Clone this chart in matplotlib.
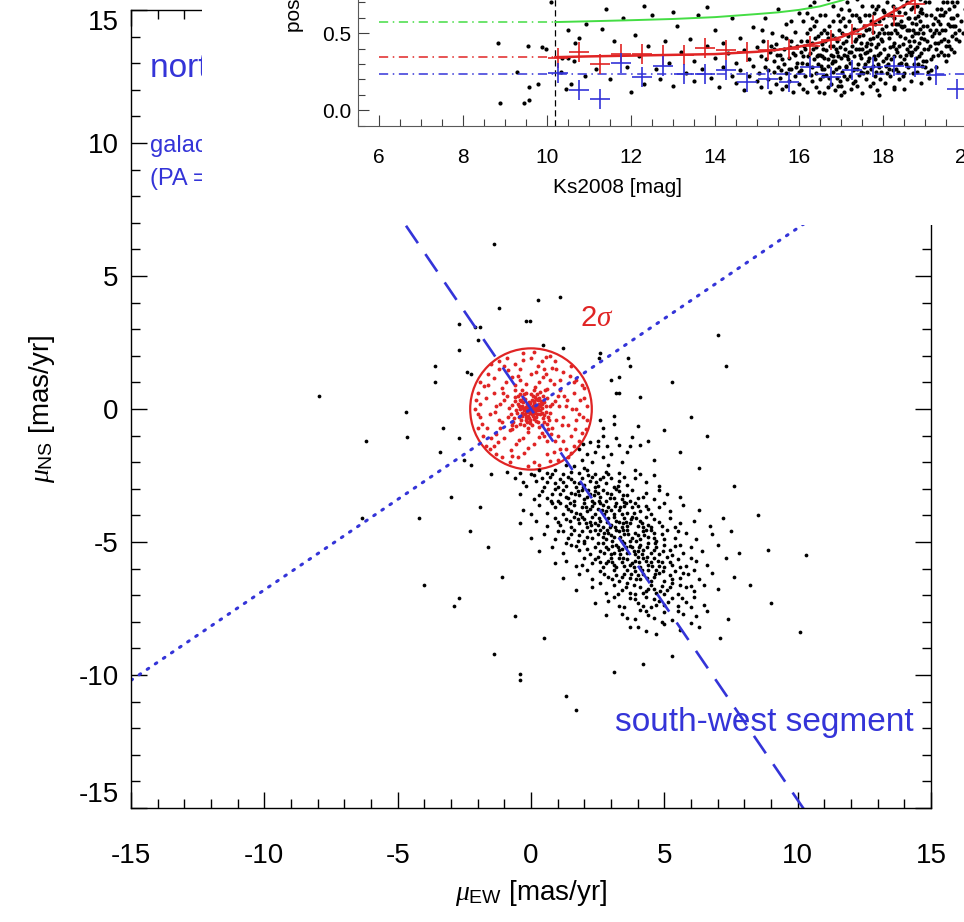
import numpy as np
import matplotlib
matplotlib.use('Agg')
import matplotlib.pyplot as plt
from matplotlib.patches import Circle, Rectangle
from matplotlib.ticker import MultipleLocator, FormatStrFormatter

plt.rcParams['font.family'] = ['Liberation Sans', 'DejaVu Sans']
plt.rcParams['mathtext.fontset'] = 'custom'
plt.rcParams['mathtext.rm'] = 'Liberation Sans'
plt.rcParams['mathtext.it'] = 'Liberation Serif:italic'
plt.rcParams['axes.unicode_minus'] = False

# ---- main panel data: proper motions [mas/yr] ----
field_stars = """
-7.95 0.5  -6.2 -1.2  -4.7 -0.1  -4.65 -1.05  -6.35 -4.1  -4.2 -4.1  -4.0 -6.6
-2.9 -7.4  -2.7 -7.1  -1.4 -9.2  -0.4 -9.95  -0.4 -10.2  1.3 -10.8  1.7 -11.3
-1.4 6.2  0.26 4.1  1.1 4.2  -1.2 3.8  -2.7 3.2  -2.1 3.1  -1.9 3.1  -0.2 3.3
-0.05 3.3  0.45 2.4  1.2 2.3  -2.0 2.6  -2.7 2.2  -3.6 1.6  -3.6 1.0  -2.4 1.4
-2.25 1.3  -3.3 -0.7  -2.7 -1.1  -3.4 -1.6  -2.5 -1.9  -2.25 -2.1  2.5 -1.2
3.0 1.1  3.3 1.2  3.2 0.6  3.3 0.6  3.7 1.6  4.1 0.45  2.55 1.9  3.65 1.9  2.6 2.1
3.1 -0.25  2.6 -0.4  2.7 -0.7  3.1 -0.55  3.8 -1.05  4.0 -0.65  2.7 -1.0  2.5 -1.4
2.85 -1.4  3.3 -1.35  3.7 -1.4  4.1 -1.35  4.4 -1.2  7.0 2.8  7.3 1.6  10.1 -8.4
10.3 -5.5  7.6 -2.9  5.0 -0.8  5.6 -1.6  6.3 -2.2  6.0 -0.3  5.3 1.0  6.6 -1.0
8.5 -4.0  8.9 -5.3  8.2 -6.6  9.0 -7.3  7.4 -7.9  7.1 -8.6  4.2 -9.6  3.1 -9.9
5.3 -9.3  0.5 -8.6  -0.6 -7.8  -1.1 -6.3  -1.6 -5.2  -2.3 -4.6  -1.9 -3.7  -3.0 -3.3
1.8 -1.5  2.1 -1.7  2.4 -1.6  1.9 -1.9  2.3 -2.0  2.7 -1.8  3.0 -1.7  1.3 -2.1
1.6 -2.15  2.0 -2.2  3.4 -2.0  3.6 -1.6  2.9 -2.1  4.6 -1.9  1.95 -1.3  2.2 -1.25
3.2 -1.1
-0.9 -2.35  -0.4 -2.4  0.0 -2.45  0.3 -2.3  0.6 -2.4  0.9 -2.3  1.2 -2.45  1.5 -2.35
1.8 -2.4  2.1 -2.3  2.4 -2.45  2.8 -2.35  3.3 -2.4  3.9 -2.3  -1.5 -2.45
-0.6 -2.6  -0.2 -2.9  0.2 -2.7  0.5 -2.95  0.7 -2.55  0.9 -2.8  1.1 -2.65  1.3 -2.9
1.4 -2.55  1.6 -2.75  1.7 -2.95  1.9 -2.6  2.0 -2.85  2.2 -2.7  2.3 -2.55  2.5 -2.9
2.6 -2.65  2.8 -2.8  3.0 -2.6  3.1 -2.95  3.3 -2.7  3.6 -2.85  3.9 -2.6  4.3 -2.75
4.8 -2.9  1.0 -2.95  2.4 -2.95  0.4 -2.6  1.8 -2.8  2.7 -2.55
-0.4 -3.2  0.1 -3.4  0.4 -3.1  0.6 -3.35  0.8 -3.2  1.0 -3.45  1.2 -3.05  1.3 -3.3
1.5 -3.15  1.6 -3.45  1.8 -3.25  1.9 -3.05  2.0 -3.4  2.2 -3.2  2.3 -3.45  2.4 -3.1
2.6 -3.3  2.7 -3.05  2.8 -3.45  3.0 -3.2  3.1 -3.35  3.3 -3.1  3.4 -3.4  3.6 -3.25
3.8 -3.05  4.0 -3.35  4.3 -3.15  4.6 -3.4  5.1 -3.2  5.6 -3.3  1.1 -3.2  2.5 -3.15
2.1 -3.3  0.9 -3.0  3.5 -3.5
-0.3 -3.8  0.3 -3.6  0.6 -3.9  0.9 -3.7  1.1 -3.55  1.2 -3.95  1.4 -3.75  1.6 -3.6
1.7 -3.9  1.9 -3.7  2.0 -3.55  2.1 -3.85  2.3 -3.65  2.4 -3.95  2.5 -3.75  2.7 -3.6
2.8 -3.85  2.9 -3.7  3.1 -3.95  3.2 -3.55  3.3 -3.8  3.5 -3.65  3.6 -3.9  3.8 -3.7
3.9 -3.55  4.1 -3.85  4.3 -3.65  4.5 -3.95  4.8 -3.7  5.2 -3.85  5.7 -3.6  6.3 -3.8
2.2 -3.75  2.6 -3.55  3.0 -3.8  1.5 -3.85  3.4 -3.95  0.0 -3.95
0.2 -4.2  0.6 -4.4  0.9 -4.1  1.1 -4.35  1.3 -4.15  1.5 -4.45  1.6 -4.05  1.8 -4.3
2.0 -4.15  2.1 -4.45  2.3 -4.05  2.4 -4.3  2.6 -4.2  2.7 -4.45  2.9 -4.1  3.0 -4.35
3.1 -4.05  3.3 -4.25  3.4 -4.45  3.5 -4.1  3.7 -4.3  3.8 -4.05  4.0 -4.4  4.1 -4.2
4.3 -4.05  4.4 -4.35  4.6 -4.15  4.9 -4.4  5.2 -4.1  5.6 -4.3  6.1 -4.2  6.7 -4.4
2.5 -4.35  3.2 -4.2  2.2 -4.25  3.6 -4.4  1.9 -4.05  4.2 -4.45  -0.4 -4.3  7.2 -4.1
0.5 -4.7  0.9 -4.9  1.2 -4.6  1.4 -4.85  1.6 -4.55  1.8 -4.75  2.0 -4.95  2.2 -4.6
2.3 -4.85  2.5 -4.7  2.6 -4.55  2.8 -4.9  2.9 -4.65  3.1 -4.8  3.2 -4.55  3.4 -4.95
3.5 -4.7  3.6 -4.55  3.8 -4.85  3.9 -4.65  4.1 -4.9  4.2 -4.6  4.4 -4.8  4.5 -4.55
4.7 -4.95  4.9 -4.7  5.1 -4.55  5.4 -4.85  5.8 -4.65  6.2 -4.9  6.8 -4.7  3.0 -4.75
3.3 -4.6  2.7 -4.8  4.0 -4.75  1.9 -4.6  4.6 -4.65  0.0 -4.85  7.5 -4.6  3.7 -4.95
0.8 -5.2  1.2 -5.4  1.5 -5.1  1.8 -5.3  2.0 -5.05  2.2 -5.45  2.4 -5.2  2.6 -5.35
2.7 -5.05  2.9 -5.25  3.0 -5.45  3.2 -5.1  3.3 -5.3  3.5 -5.05  3.6 -5.4  3.8 -5.2
3.9 -5.45  4.1 -5.1  4.2 -5.3  4.4 -5.05  4.5 -5.4  4.7 -5.2  4.8 -5.45  5.0 -5.1
5.2 -5.3  5.4 -5.15  5.7 -5.4  6.0 -5.2  6.4 -5.35  7.0 -5.1  3.4 -5.25  3.7 -5.15
4.0 -5.35  2.8 -5.2  4.6 -5.3  3.1 -5.4  0.3 -5.35  7.8 -5.4
1.3 -5.7  1.7 -5.9  2.0 -5.6  2.3 -5.8  2.5 -5.55  2.7 -5.95  2.9 -5.7  3.1 -5.85
3.3 -5.6  3.5 -5.9  3.6 -5.65  3.8 -5.8  4.0 -5.55  4.1 -5.95  4.3 -5.7  4.4 -5.85
4.6 -5.6  4.8 -5.9  4.9 -5.75  5.1 -5.55  5.3 -5.85  5.5 -5.65  5.8 -5.9  6.2 -5.7
6.6 -5.85  3.4 -5.75  3.9 -5.7  4.5 -5.75  3.0 -5.6  4.2 -5.6  2.6 -5.75  0.9 -5.8
7.3 -5.6  5.0 -5.95
1.8 -6.2  2.3 -6.4  2.6 -6.1  2.9 -6.3  3.1 -6.05  3.3 -6.45  3.5 -6.2  3.7 -6.35
3.9 -6.1  4.1 -6.4  4.2 -6.2  4.4 -6.05  4.6 -6.3  4.8 -6.15  5.0 -6.45  5.2 -6.25
5.4 -6.1  5.6 -6.35  5.9 -6.2  6.3 -6.4  6.8 -6.15  4.0 -6.25  4.5 -6.45  3.6 -6.05
4.7 -6.05  3.2 -6.25  1.2 -6.35  7.6 -6.3
2.3 -6.7  2.8 -6.9  3.1 -6.6  3.4 -6.8  3.6 -6.55  3.9 -6.95  4.1 -6.7  4.3 -6.85
4.5 -6.6  4.7 -6.9  4.9 -6.65  5.1 -6.8  5.3 -6.55  5.5 -6.95  5.8 -6.7  6.1 -6.85
6.5 -6.6  4.4 -6.75  3.7 -6.9  5.0 -6.95  1.7 -6.8  7.0 -6.75
2.9 -7.2  3.3 -7.4  3.7 -7.1  4.0 -7.3  4.3 -7.05  4.5 -7.45  4.8 -7.2  5.0 -7.35
5.3 -7.1  5.5 -7.4  5.8 -7.25  6.1 -7.05  6.5 -7.35  4.6 -7.15  3.5 -7.45  2.4 -7.3
3.4 -7.7  3.9 -7.9  4.3 -7.6  4.6 -7.85  5.0 -7.65  5.3 -7.95  5.7 -7.7  6.2 -7.8
4.1 -7.55  2.8 -7.75  6.6 -7.6
3.7 -8.2  4.3 -8.35  5.0 -8.1  5.6 -8.3  4.7 -8.45  6.3 -8.2
0.1 -2.5  0.8 -2.45  1.5 -2.65  2.15 -2.5  2.9 -2.45  3.5 -2.55  4.1 -2.45  1.2 -2.75
2.45 -2.75  3.25 -2.9  0.6 -2.75  1.95 -2.95  4.6 -2.5  -0.3 -2.75
0.3 -3.25  0.75 -3.45  1.4 -3.35  1.75 -3.1  2.15 -3.05  2.55 -3.45  2.95 -3.35  3.2 -3.0
3.7 -3.45  4.2 -3.3  4.8 -3.05  1.65 -3.2  2.35 -3.25  2.85 -3.15  3.45 -3.25
0.8 -3.55  1.3 -3.65  1.85 -3.95  2.35 -3.55  2.75 -3.95  3.15 -3.65  3.55 -3.55  4.0 -3.65
4.4 -3.75  5.0 -3.55  2.05 -3.7  2.65 -3.8  3.35 -3.7  1.45 -3.55  3.85 -3.9
1.0 -4.25  1.45 -4.2  1.75 -4.15  2.25 -4.35  2.55 -4.1  2.85 -4.25  3.15 -4.45  3.45 -4.3
3.75 -4.15  4.15 -4.3  4.5 -4.45  4.8 -4.25  5.4 -4.45  2.05 -4.3  2.95 -4.45  3.55 -4.25
3.95 -4.1
1.0 -4.6  1.5 -4.7  2.1 -4.8  2.4 -4.55  2.75 -4.65  3.05 -4.95  3.35 -4.8  3.65 -4.7
3.95 -4.95  4.25 -4.75  4.6 -4.85  5.0 -4.9  5.5 -4.6  2.85 -4.55  3.45 -4.55  4.3 -4.55
1.75 -4.95
1.3 -5.05  1.7 -5.15  2.1 -5.25  2.5 -5.05  2.75 -5.4  3.05 -5.15  3.35 -5.45  3.55 -5.2
3.85 -5.35  4.15 -5.45  4.35 -5.2  4.65 -5.05  4.95 -5.35  5.3 -5.5  5.6 -5.1  3.25 -5.2
4.05 -5.2
1.9 -5.85  2.4 -5.65  2.8 -5.8  3.2 -5.95  3.45 -5.6  3.7 -5.85  4.05 -5.75  4.35 -5.55
4.55 -5.9  4.75 -5.7  5.2 -5.75  5.6 -5.95  6.0 -5.6  3.05 -5.75  3.85 -5.95
2.1 -6.05  2.75 -6.2  3.05 -6.4  3.4 -6.3  3.75 -6.2  4.15 -6.05  4.35 -6.35  4.65 -6.2
4.95 -6.1  5.3 -6.4  5.7 -6.15  6.1 -6.05  3.95 -6.4
2.6 -6.55  3.25 -6.95  3.55 -6.7  3.85 -6.6  4.2 -6.9  4.6 -6.75  4.85 -6.85  5.2 -6.7
5.6 -6.6  6.0 -6.65
3.1 -7.05  3.9 -7.15  4.2 -7.4  4.7 -7.35  5.15 -7.25  5.65 -7.1  6.0 -7.45
3.6 -7.85  4.4 -7.75  4.9 -8.0  5.5 -7.6  6.0 -8.05  4.0 -8.2
"""

member_stars = """
0.0 0.0  0.1 0.05  -0.1 0.1  0.05 -0.1  -0.05 -0.05  0.15 -0.15  -0.15 0.2  0.2 0.15
-0.2 -0.1  0.25 -0.05  -0.25 0.05  0.1 0.25  -0.1 -0.25  0.3 0.2  -0.3 0.25  0.2 -0.3
-0.2 -0.3  0.35 -0.2  -0.35 -0.15  0.05 0.35  -0.05 -0.4  0.4 0.05  -0.4 0.0  0.3 0.4
-0.3 0.4  0.45 -0.35  -0.45 -0.3  0.15 0.45  -0.15 -0.5  0.5 0.25  -0.5 0.2  0.25 -0.5
-0.25 0.55  0.55 -0.1  -0.55 -0.05  0.0 0.55  0.05 -0.6  0.6 0.4  -0.6 0.45  0.4 -0.6
-0.4 -0.55  0.65 -0.3  -0.65 -0.35  0.1 0.7  -0.1 -0.7  0.7 0.1  -0.7 0.15  0.35 0.65
-0.35 0.7  0.6 -0.55  -0.55 -0.65  0.08 0.12  -0.12 0.03  0.18 -0.02  -0.08 0.18
0.02 -0.2  0.12 0.3  -0.22 -0.18  0.28 0.08  -0.28 -0.02  0.12 -0.38  -0.32 0.12
0.38 0.3  -0.42 0.35  0.22 0.58  -0.18 0.62  0.48 -0.5  -0.48 0.5  0.7 -0.15  -0.75 -0.2
0.03 0.08  -0.07 0.14  0.12 -0.08  -0.13 -0.12  0.22 0.05  -0.18 0.08  0.06 -0.28
-0.06 0.28  0.32 -0.05  -0.32 -0.25  0.26 0.32  -0.24 0.36  0.18 -0.45  -0.38 -0.42
0.42 0.18  -0.46 0.12  0.5 -0.22  -0.52 -0.15  0.08 0.5  -0.02 -0.52  0.58 0.1  -0.6 0.3
0.45 0.5  -0.4 0.58  0.3 -0.68  -0.28 -0.62  0.68 -0.42  -0.68 -0.5  0.15 0.82
-0.12 -0.85  0.8 0.2  -0.82 0.05  0.52 0.72  -0.6 0.7  0.65 -0.75  -0.7 -0.75  0.02 0.02
-0.03 -0.15  0.16 0.1  -0.16 -0.02  0.1 0.18  -0.02 0.24  0.24 -0.18  -0.3 0.05  0.34 0.1
-0.08 -0.34  0.4 -0.15  -0.36 0.3  0.2 0.38  -0.2 -0.4
0.9 0.3  -0.9 0.5  0.8 -0.7  -0.8 -0.8  0.3 1.0  -0.4 1.1  0.5 -1.0  -0.3 -1.1
1.1 0.7  -1.1 0.8  1.2 -0.3  -1.2 -0.4  0.7 1.1  -0.7 1.2  1.0 -1.0  -1.0 -1.1
1.3 0.1  -1.3 0.1  0.0 1.3  0.1 -1.3  1.25 0.5  -1.15 -0.7  0.55 1.3  -0.55 -1.3
1.4 -0.6  -1.4 0.6  0.9 -1.2  -0.95 1.0  0.2 1.4  -0.1 -1.45  0.85 0.95  -0.6 0.9
0.95 -0.4  -0.85 -0.3  0.6 0.75  -0.7 -0.6  0.75 -0.95  1.05 0.1  -1.0 0.35  0.4 -0.9
-0.2 0.95  0.3 -1.05
1.0 0.5  -1.05 0.6  1.15 -0.6  -1.1 -0.5  0.45 1.2  -0.5 1.25  0.6 -1.2  -0.45 -1.15
1.35 0.35  -1.35 -0.1  0.25 1.6  -0.25 -1.65  1.6 1.0  -1.6 0.9  1.7 -0.4  -1.65 -0.7
0.95 1.5  -0.85 1.45  1.2 -1.2  -1.3 -0.95  1.85 0.35  -1.85 -0.55  0.55 1.95  -0.3 1.85
0.7 -1.95  -0.7 -1.75  1.95 -0.3  -2.05 0.35  1.45 1.25  -1.4 1.15  1.5 -1.65  -1.55 -1.5
2.0 0.8  -2.0 -0.2  0.1 2.15  -0.1 -2.15  0.85 -1.6  -1.2 1.8  1.7 0.0  -1.15 0.2
1.1 1.1  -0.75 -1.55
1.6 0.6  -1.7 0.4  1.5 -1.0  -1.5 -1.1  0.4 1.8  -0.6 1.7  0.6 -1.7  -0.5 -1.8
1.8 -0.2  -1.9 -0.3  1.2 1.4  -1.2 1.5  1.3 -1.5  -1.4 -1.4  0.0 1.9  0.1 -2.0
2.0 0.4  -2.0 0.6  1.9 -0.9  -1.8 -1.0  0.9 1.8  -0.9 1.9  1.0 -1.9  -1.1 -1.8
1.7 1.1  -1.6 1.3  1.6 -1.4  -1.7 -1.4  2.1 -0.4  -2.1 0.0  -0.3 2.1  0.3 -2.1
1.5 1.6  -1.5 1.7  1.9 0.9  -2.0 -0.7  0.7 2.0  -0.8 -2.0  1.4 -1.8  -1.3 -1.7
2.1 0.1  -1.9 1.0  1.8 -1.2  -1.9 0.2  0.5 1.5  -0.4 1.5  1.55 0.0  -1.55 -0.2
1.1 -1.5  -1.0 1.6  0.8 1.55  -1.25 -1.25  1.65 -0.75  -1.75 0.85  2.05 -0.75
"""

sigma2_radius = 2.28        # mas/yr
sw_slope = -1.47            # south-west segment direction (dashed)
gp_slope = 0.68             # galactic plane direction (dotted)

# ---- inset data: positional uncertainty vs Ks ----
inset_stars = """
8.83 0.435  8.88 0.045  9.45 0.045  9.57 0.07  9.55 0.415  9.57 0.15  9.79 0.17
9.29 0.25  9.88 0.41  9.98 0.40  10.1 0.70  10.5 0.52  10.93 0.56  10.67 0.435
10.76 0.47  10.36 0.34  10.5 0.34  10.64 0.32  10.33 0.25  10.45 0.14  10.57 0.17
10.9 0.22  11.17 0.27
11.3 0.53  11.5 0.2  11.6 0.45  11.8 0.6  11.9 0.28  12.0 0.12  12.1 0.49  12.2 0.35
12.3 0.17  12.4 0.42  12.5 0.62  12.6 0.27  12.7 0.2  12.8 0.45  12.9 0.31  13.0 0.16
13.1 0.55  13.2 0.38  13.3 0.24  13.4 0.46  13.5 0.19  13.5 0.32  13.6 0.62  13.7 0.27
13.8 0.42  13.9 0.21  14.0 0.34  14.0 0.52  14.1 0.15  14.2 0.28  14.2 0.44  14.3 0.37
14.4 0.22  14.4 0.6  14.5 0.31  14.5 0.18  14.6 0.47  14.6 0.26  14.7 0.39  14.7 0.13
14.8 0.33  14.8 0.22  14.9 0.54  14.9 0.29  15.0 0.41  15.0 0.19  11.4 0.66  12.3 0.68
13.0 0.64  13.8 0.67
15.05 0.24  15.1 0.35  15.1 0.15  15.15 0.45  15.2 0.28  15.2 0.6  15.25 0.2  15.3 0.38
15.3 0.12  15.35 0.5  15.4 0.25  15.4 0.32  15.45 0.43  15.45 0.17  15.5 0.28  15.5 0.66
15.55 0.36  15.55 0.21  15.6 0.48  15.6 0.14  15.65 0.3  15.65 0.4  15.7 0.24  15.7 0.56
15.75 0.34  15.75 0.19  15.8 0.45  15.8 0.27  15.85 0.37  15.85 0.12  15.9 0.22  15.9 0.51
15.95 0.31  15.95 0.42  16.0 0.17  16.0 0.63  15.12 0.52  15.33 0.42  15.58 0.26  15.82 0.58
15.48 0.36  15.68 0.16  15.92 0.28  15.22 0.33  15.78 0.41
16.05 0.26  16.05 0.45  16.1 0.14  16.1 0.35  16.1 0.58  16.15 0.22  16.15 0.4  16.2 0.3
16.2 0.5  16.2 0.12  16.25 0.37  16.25 0.68  16.3 0.19  16.3 0.44  16.3 0.28  16.35 0.33
16.35 0.55  16.4 0.24  16.4 0.41  16.4 0.15  16.45 0.48  16.45 0.3  16.5 0.36  16.5 0.2
16.5 0.62  16.55 0.43  16.55 0.27  16.6 0.11  16.6 0.34  16.6 0.52  16.65 0.23  16.65 0.39
16.7 0.47  16.7 0.29  16.7 0.72  16.75 0.17  16.75 0.36  16.8 0.42  16.8 0.25  16.8 0.58
16.85 0.32  16.85 0.13  16.9 0.45  16.9 0.21  16.9 0.38  16.95 0.28  16.95 0.52  17.0 0.34
17.0 0.16  17.0 0.66  16.08 0.31  16.18 0.63  16.28 0.23  16.38 0.47  16.48 0.12  16.58 0.4
16.68 0.33  16.78 0.49  16.88 0.27  16.98 0.41  16.12 0.42  16.22 0.35  16.32 0.6  16.42 0.35
16.52 0.29  16.62 0.45  16.72 0.21  16.82 0.35  16.92 0.62  16.97 0.19  16.35 0.7  16.65 0.8
16.45 0.75  16.85 0.78  16.55 0.9
17.02 0.25  17.04 0.44  17.06 0.12  17.08 0.36  17.1 0.55  17.12 0.29  17.14 0.2  17.16 0.48
17.18 0.38  17.2 0.65  17.22 0.31  17.24 0.14  17.26 0.42  17.28 0.26  17.3 0.53  17.32 0.35
17.34 0.19  17.36 0.46  17.38 0.72  17.4 0.3  17.42 0.4  17.44 0.23  17.46 0.58  17.48 0.34
17.5 0.11  17.52 0.49  17.54 0.28  17.56 0.37  17.58 0.62  17.6 0.2  17.62 0.44  17.64 0.32
17.66 0.53  17.68 0.16  17.7 0.39  17.72 0.27  17.74 0.68  17.76 0.47  17.78 0.35  17.8 0.22
17.82 0.56  17.84 0.41  17.86 0.13  17.88 0.3  17.9 0.5  17.92 0.75  17.94 0.37  17.96 0.25
17.98 0.45  18.0 0.6  17.05 0.6  17.11 0.82  17.17 0.33  17.23 0.5  17.29 0.18  17.35 0.62
17.41 0.85  17.47 0.44  17.53 0.24  17.59 0.52  17.65 0.78  17.71 0.58  17.77 0.29  17.83 0.66
17.89 0.43  17.95 0.88  17.15 0.7  17.27 0.77  17.39 0.52  17.51 0.68  17.63 0.9  17.75 0.51
17.87 0.81  17.97 0.53  17.09 0.4  17.21 0.22  17.33 0.45  17.45 0.36  17.57 0.3  17.69 0.46
17.81 0.33  17.93 0.2  17.13 0.28  17.37 0.27  17.61 0.38  17.85 0.48  17.99 0.32  17.43 0.6
17.67 0.62  17.91 0.58
18.02 0.4  18.04 0.18  18.06 0.55  18.08 0.29  18.1 0.7  18.12 0.36  18.14 0.47  18.16 0.22
18.18 0.62  18.2 0.33  18.22 0.8  18.24 0.42  18.26 0.15  18.28 0.52  18.3 0.27  18.32 0.66
18.34 0.38  18.36 0.74  18.38 0.2  18.4 0.48  18.42 0.58  18.44 0.31  18.46 0.85  18.48 0.43
18.5 0.24  18.52 0.63  18.54 0.36  18.56 0.52  18.58 0.7  18.6 0.28  18.62 0.45  18.64 0.92
18.66 0.19  18.68 0.57  18.7 0.38  18.72 0.67  18.74 0.3  18.76 0.5  18.78 0.78  18.8 0.41
18.82 0.25  18.84 0.61  18.86 0.35  18.88 0.72  18.9 0.47  18.92 0.29  18.94 0.88  18.96 0.55
18.98 0.4  18.05 0.85  18.11 0.5  18.17 0.41  18.23 0.26  18.29 0.75  18.35 0.56  18.41 0.35
18.47 0.68  18.53 0.47  18.59 0.82  18.65 0.42  18.71 0.24  18.77 0.6  18.83 0.5  18.89 0.58
18.95 0.32  18.03 0.64  18.09 0.24  18.15 0.92  18.21 0.56  18.27 0.44  18.33 0.5  18.39 0.64
18.45 0.54  18.51 0.77  18.57 0.4  18.63 0.6  18.69 0.48  18.75 0.86  18.81 0.68  18.87 0.53
18.93 0.63  18.99 0.7  18.13 0.3  18.19 0.74  18.25 0.6  18.31 0.4  18.37 0.3  18.43 0.72
18.49 0.33  18.55 0.74  18.61 0.52  18.67 0.36  18.73 0.45  18.79 0.34  18.85 0.44  18.91 0.66
18.97 0.46
19.02 0.32  19.05 0.55  19.08 0.25  19.1 0.7  19.12 0.42  19.15 0.62  19.18 0.35  19.2 0.82
19.22 0.5  19.25 0.28  19.28 0.66  19.3 0.44  19.32 0.58  19.35 0.75  19.38 0.38  19.4 0.52
19.42 0.9  19.45 0.46  19.48 0.64  19.5 0.32  19.52 0.7  19.55 0.56  19.58 0.42  19.6 0.8
19.62 0.6  19.65 0.48  19.68 0.68  19.7 0.38  19.72 0.55  19.75 0.62  19.8 0.45  19.85 0.58
19.9 0.5  19.95 0.66  20.0 0.55  19.04 0.45  19.14 0.26  19.24 0.6  19.34 0.5  19.44 0.62
19.54 0.45  19.64 0.7  19.74 0.46  19.16 0.48  19.26 0.4  19.36 0.62  19.46 0.36  19.56 0.66
19.66 0.55  18.5 0.14  19.1 0.21  17.9 0.1  18.9 0.18  18.26 0.14  17.0 0.1
16.52 0.5  16.58 0.22  16.62 0.62  16.68 0.15  16.72 0.55  16.78 0.31  16.82 0.68  16.88 0.4
16.92 0.16  16.98 0.58  17.03 0.5  17.07 0.22  17.11 0.45  17.15 0.35  17.19 0.58  17.23 0.38
17.27 0.62  17.31 0.27  17.35 0.4  17.39 0.16  17.43 0.48  17.47 0.25  17.51 0.4  17.55 0.55
17.59 0.42  17.63 0.25  17.67 0.34  17.71 0.43  17.75 0.18  17.79 0.63  17.83 0.25  17.87 0.36
17.91 0.28  17.95 0.46  17.99 0.65  18.03 0.5  18.07 0.34  18.11 0.62  18.15 0.27  18.19 0.5
18.23 0.68  18.27 0.35  18.31 0.56  18.35 0.25  18.39 0.42  18.43 0.55  18.47 0.22  18.51 0.55
18.55 0.3  18.59 0.6  18.63 0.38  18.67 0.66  18.71 0.52  18.75 0.4  18.79 0.56  18.83 0.3
18.87 0.64  18.91 0.37  18.95 0.5  18.99 0.28  19.03 0.62  19.07 0.4  19.11 0.52  19.15 0.33
19.19 0.56  19.23 0.44  19.27 0.52  19.31 0.36  19.35 0.56  19.39 0.45  19.43 0.7  19.47 0.52
19.51 0.42  19.55 0.36  19.59 0.55  19.63 0.4  19.67 0.6  19.71 0.5  19.77 0.7  19.82 0.52
16.2 0.45  16.26 0.53  16.34 0.4  16.4 0.58  16.46 0.36  16.54 0.35  16.6 0.27  16.66 0.5
16.74 0.42  16.8 0.32  16.86 0.47  16.94 0.35  15.6 0.33  15.9 0.36  15.4 0.4  15.7 0.47
16.0 0.25  16.04 0.38  15.25 0.26  15.75 0.27  17.18 0.9  17.58 0.82  17.88 0.68  18.28 0.88
18.62 0.78  19.06 0.8  19.38 0.66  19.58 0.75  19.28 0.88  19.72 0.8
"""

bin_ks = [10.25, 10.75, 11.25, 11.75, 12.25, 12.75, 13.25, 13.75, 14.25, 14.75,
          15.25, 15.75, 16.25, 16.75, 17.25, 17.75, 18.25, 18.75, 19.25, 19.75]
red_bins = [0.34, 0.377, 0.30, 0.366, 0.366, 0.356, 0.36, 0.405, 0.39, 0.377,
            0.39, 0.40, 0.42, 0.457, 0.496, 0.556, 0.614, 0.69, 0.78, 0.88]
blue_bins = [0.241, 0.134, 0.075, 0.31, 0.215, 0.29, 0.237, 0.233, 0.26, 0.183,
             0.205, 0.183, 0.28, 0.215, 0.26, 0.28, 0.29, 0.28, 0.226, 0.14]

red_fit_ks = [10.2, 11, 12, 13, 14, 15, 15.5, 16, 16.5, 17, 17.5, 18, 18.5, 19]
red_fit = [0.345, 0.35, 0.355, 0.36, 0.365, 0.38, 0.393, 0.413, 0.44, 0.475, 0.53, 0.605, 0.68, 0.76]
green_fit_ks = [10.2, 11, 12, 13, 14, 15, 15.5, 16, 16.5, 17, 17.5]
green_fit = [0.573, 0.578, 0.585, 0.593, 0.605, 0.625, 0.636, 0.652, 0.675, 0.712, 0.76]

ks_limit = 10.2
green_floor = 0.573
red_floor = 0.344
blue_level = 0.234

blue = '#3434d8'
red = '#e02424'
green = '#44dd44'

fx, fy = np.array(field_stars.split(), dtype=float).reshape(-1, 2).T
mx, my = np.array(member_stars.split(), dtype=float).reshape(-1, 2).T
ix, iy = np.array(inset_stars.split(), dtype=float).reshape(-1, 2).T

fig = plt.figure(figsize=(9.64, 9.22), dpi=100)

# ---------------- main panel ----------------
ax = fig.add_axes([131 / 964, 1 - 808 / 922, 800 / 964, 798 / 922])
ax.set_xlim(-15, 15)
ax.set_ylim(-15, 15)

ax.plot(fx, fy, 'o', ms=2.7, mec='none', color='black')
ax.plot(mx, my, 'o', ms=2.8, mec='none', color=red)
ax.add_patch(Circle((0, 0), sigma2_radius, fill=False, ec=red, lw=1.6))

xl = np.array([-15.0, 15.0])
ax.plot(xl, sw_slope * xl, color=blue, lw=1.9, ls=(0, (8, 5)))
ax.plot(xl, gp_slope * xl, color=blue, lw=2.2, ls=(0, (0.6, 2.6)), dash_capstyle='round')

ax.text(2.47, 3.42, r'2$\sigma$', color=red, fontsize=21, ha='center', va='center')
ax.text(3.15, -11.77, 'south-west segment', color=blue, fontsize=24, va='center')
ax.text(-14.3, 12.8, 'north-east segment', color=blue, fontsize=24, va='center')
ax.text(-14.3, 9.9, 'galactic plane', color=blue, fontsize=17, va='center')
ax.text(-14.3, 8.65, '(PA = 31.4\u00b0)', color=blue, fontsize=17, va='center')

ax.xaxis.set_major_locator(MultipleLocator(5))
ax.xaxis.set_minor_locator(MultipleLocator(1))
ax.yaxis.set_major_locator(MultipleLocator(5))
ax.yaxis.set_minor_locator(MultipleLocator(1))
ax.tick_params(which='both', direction='in', top=True, right=True, width=1.0)
ax.tick_params(which='major', length=11.5, labelsize=20)
ax.tick_params(which='minor', length=6.5)
ax.tick_params(axis='x', pad=25)
ax.tick_params(axis='y', pad=9)
for s in ax.spines.values():
    s.set_linewidth(1.0)

ax.set_xlabel(r'$\mu_{\rm EW}$ [mas/yr]', fontsize=20)
ax.set_ylabel(r'$\mu_{\rm NS}$ [mas/yr]', fontsize=20)
ax.xaxis.set_label_coords(0.5, -0.088)
ax.yaxis.set_label_coords(-0.092, 0.5)

# end labels of the y axis sit inside the frame, as in IDL plots
fig.canvas.draw()
for t in ax.yaxis.get_major_ticks():
    if np.isclose(t.get_loc(), 15):
        t.label1.set_verticalalignment('top')
    elif np.isclose(t.get_loc(), -15):
        t.label1.set_verticalalignment('bottom')

# white box under the inset
fig.add_artist(Rectangle((202 / 964, 1 - 225 / 922), 1.0, 1.0, transform=fig.transFigure,
                         facecolor='white', edgecolor='none', zorder=2))

# ---------------- inset ----------------
ia = fig.add_axes([358 / 964, 1 - 125.7 / 922, 651 / 964, 169.4 / 922])
ia.set_zorder(3)
ia.set_xlim(5.5, 21.0)
ia.set_ylim(-0.1, 1.0)

ia.plot(ix, iy, 'o', ms=3.0, mec='none', color='black')
ia.axvline(ks_limit, color='black', lw=0.9, ls=(0, (5, 3)))
ia.hlines(green_floor, 6, ks_limit, color=green, lw=1.1, ls=(0, (6, 3, 1, 3)))
ia.hlines(red_floor, 6, ks_limit, color=red, lw=1.1, ls=(0, (6, 3, 1, 3)))
ia.hlines(blue_level, 6, 21, color=blue, lw=1.1, ls=(0, (6, 3, 1, 3)))
ia.plot(green_fit_ks, green_fit, color=green, lw=1.4)
ia.plot(red_fit_ks, red_fit, color=red, lw=1.8)
ia.plot(bin_ks, red_bins, '+', color=red, ms=14, mew=1.2)
ia.plot(bin_ks, blue_bins, '+', color=blue, ms=14, mew=1.2)

ia.xaxis.set_major_locator(MultipleLocator(2))
ia.xaxis.set_minor_locator(MultipleLocator(0.5))
ia.yaxis.set_major_locator(MultipleLocator(0.5))
ia.yaxis.set_minor_locator(MultipleLocator(0.1))
ia.yaxis.set_major_formatter(FormatStrFormatter('%.1f'))
ia.tick_params(which='both', direction='in', top=True, right=True, width=0.8, colors='0.25')
ia.tick_params(which='major', length=8, labelsize=15, labelcolor='black')
ia.tick_params(which='minor', length=5)
ia.tick_params(axis='x', pad=16)
ia.tick_params(axis='y', pad=5)
for s in ia.spines.values():
    s.set_linewidth(0.8)
    s.set_color('0.35')
ia.set_xlabel('Ks2008 [mag]', fontsize=15)
ia.xaxis.set_label_coords(0.398, -0.31)
ia.text(-0.098, 0.553, 'position uncertainty [mas]', transform=ia.transAxes,
        rotation=90, ha='center', va='bottom', fontsize=15)

fig.savefig('out.png', dpi=100)
